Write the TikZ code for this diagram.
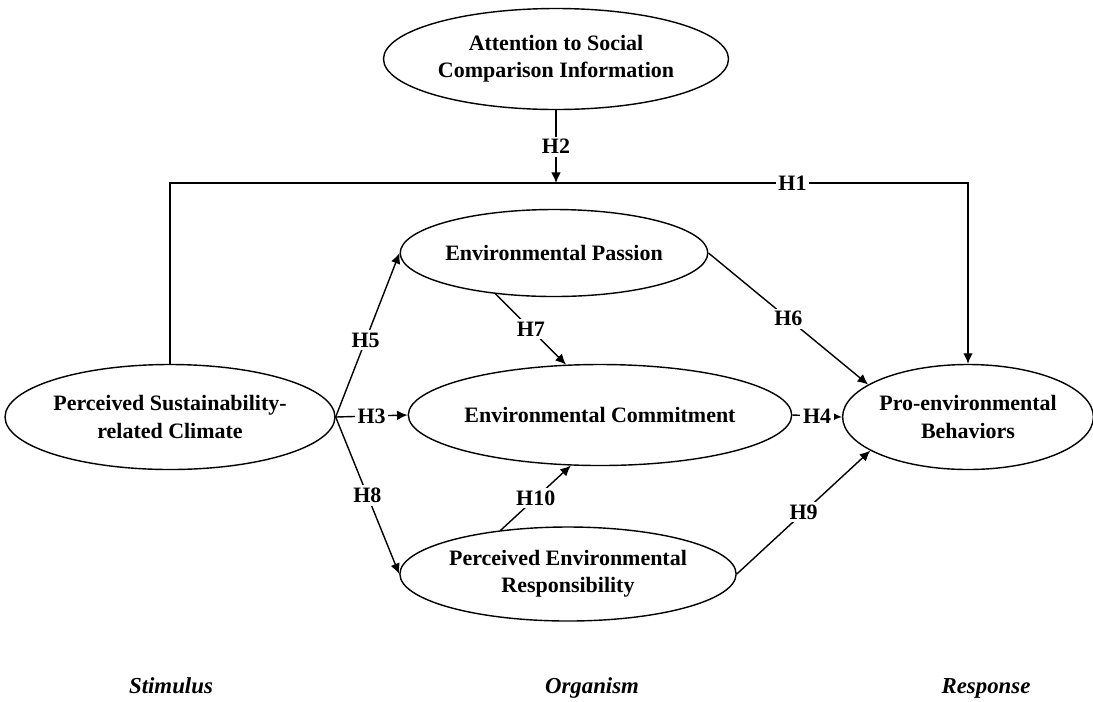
\documentclass[tikz,border=0pt]{standalone}
\usepackage{fontspec}
\setmainfont{Liberation Serif}
\usetikzlibrary{shapes.geometric,arrows.meta}

\tikzset{
    construct/.style={shape=ellipse,draw=black,line width=0.8pt,inner sep=0pt,align=center,
        font=\fontsize{12.5}{15.5}\selectfont\bfseries},
    hyp/.style={fill=white,inner sep=1.5pt,font=\fontsize{12.5}{15}\selectfont\bfseries},
    link/.style={draw=black,line width=0.8pt,-{Latex[length=6pt,width=5.5pt]}},
    stage/.style={anchor=base,font=\fontsize{13}{15}\selectfont\bfseries\itshape}
}

\begin{document}
\begin{tikzpicture}
    \useasboundingbox (0,0) rectangle (21.86,-14.02);

    \node[construct,minimum width=6.9cm,minimum height=2.02cm] (attn) at (11.12,-1.18) {Attention to Social\\Comparison Information};
    \node[construct,minimum width=6.3cm,minimum height=2.1cm] (climate) at (3.4,-8.34) {Perceived Sustainability-\\related Climate};
    \node[construct,minimum width=5.84cm,minimum height=1.74cm] (passion) at (11.08,-5.06) {Environmental Passion};
    \node[construct,minimum width=6.98cm,minimum height=2.02cm] (commit) at (12.0,-8.3) {Environmental Commitment};
    \node[construct,minimum width=6.4cm,minimum height=1.88cm] (resp) at (11.36,-11.48) {Perceived Environmental\\Responsibility};
    \node[construct,minimum width=4.96cm,minimum height=2.1cm] (behav) at (19.36,-8.34) {Pro-environmental\\Behaviors};

    \coordinate (h1left) at (climate.north |- 0,-3.66);
    \coordinate (h1right) at (behav.north |- 0,-3.66);

    \path[link] (climate.north) -- (h1left) -- node[hyp,pos=0.78] {H1} (h1right) -- (behav.north);
    \path[link] (attn.south) -- node[hyp] {H2} (attn.south |- h1left);
    \path[link] (climate.east) -- node[hyp] {H3} (commit.west);
    \path[link] (commit.east) -- node[hyp] {H4} (behav.west);
    \path[link] (climate.east) -- node[hyp,pos=0.47] {H5} (passion.west);
    \path[link] (passion.east) -- node[hyp] {H6} (behav.162);
    \path[link] (passion.215) -- node[hyp] {H7} (commit.124);
    \path[link] (climate.east) -- node[hyp] {H8} (resp.west);
    \path[link] (resp.east) -- node[hyp] {H9} (behav.199);
    \path[link] (resp.147) -- node[hyp] {H10} (commit.240);

    \node[stage] (stim) at (3.42,-13.86) {Stimulus};
    \node[stage] (org) at (11.84,-13.86) {Organism};
    \node[stage] (res) at (19.72,-13.86) {Response};
\end{tikzpicture}
\end{document}
